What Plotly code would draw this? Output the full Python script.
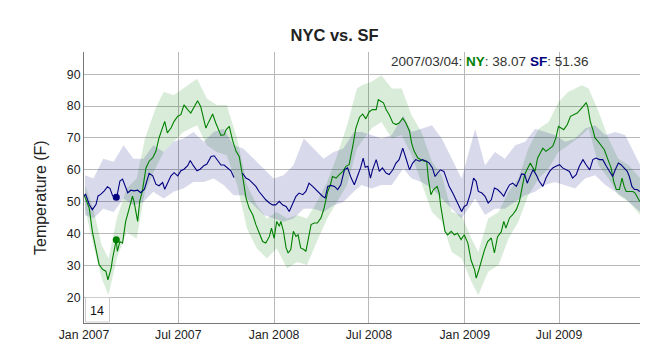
import pandas as pd
import plotly.graph_objects as go

# ---------------- data (days after 2007-01-01) ----------------
ny_day = [0,10,16,23,29,36,42,46,52,55,62,64,69,74,80,87,93,96,103,107,112,119,125,132,138,144,151,155,160,167,
          173,180,186,192,199,205,212,218,224,230,234,240,247,253,263,269,273,279,285,292,298,304,311,317,324,330,
          336,343,349,356,360,365,370,375,378,383,388,392,397,402,407,411,416,422,426,431,436,442,448,455,461,468,
          473,477,484,490,497,503,509,516,522,529,535,541,548,554,561,565,570,575,580,586,593,599,605,612,618,625,
          629,634,641,647,653,658,661,666,671,678,682,685,689,693,698,705,711,717,724,730,737,743,750,753,757,762,
          769,775,782,788,794,801,806,810,817,823,830,836,840,846,852,857,862,866,871,876,881,887,894,900,906,911,
          916,921,928,934,940,947,953,960,964,967,972,977,981,987,993,999,1006,1012,1017,1022,1028,1033,1037,1041,
          1047,1054,1058,1063,1067]
ny_val = [52.2,48.0,40.7,35.5,30.3,28.7,28.2,25.5,29.1,32.3,38.07,34.4,37.5,37.0,43.8,48.0,51.7,50.1,43.8,50.1,53.3,60.6,62.7,63.8,65.8,70.0,73.1,75.2,71.6,73.1,
          75.2,76.8,77.3,80.4,78.9,77.8,79.9,81.7,79.9,76.2,73.1,75.2,77.5,74.7,70.8,71.0,72.6,73.6,69.4,65.8,64.2,58.5,51.2,48.0,45.9,42.8,
          40.2,37.5,37.0,39.1,41.7,38.5,43.8,42.3,43.8,40.7,35.5,33.9,35.0,40.7,39.1,39.6,35.5,35.0,34.4,38.6,42.8,43.3,43.3,44.9,48.0,53.2,
          55.3,57.9,57.4,58.5,59.5,61.1,61.6,67.4,73.1,76.5,77.5,76.0,78.3,78.9,78.9,82.0,81.5,81.0,78.9,77.3,74.7,74.2,74.7,76.2,74.7,72.1,
          68.4,65.8,63.7,63.2,62.7,62.7,57.4,52.2,53.8,54.8,52.7,48.5,44.3,40.7,39.6,40.7,39.6,40.1,38.1,39.6,37.0,31.7,28.6,26.0,28.0,31.2,
          34.9,37.5,38.6,33.9,39.0,40.5,43.8,41.7,44.9,45.9,47.5,50.1,53.2,58.5,60.6,62.1,60.6,59.5,63.7,65.3,66.8,65.8,66.8,67.4,70.0,73.6,
          73.1,72.6,74.2,76.8,77.3,77.8,78.9,80.4,81.0,79.9,75.2,72.6,70.0,68.9,67.4,66.3,63.2,60.6,56.4,53.8,53.8,57.4,54.8,53.2,
          53.2,53.2,52.7,51.2,50.1]

sf_day = [0,3,10,16,23,27,32,39,45,50,55,62,64,69,74,78,84,90,96,103,109,116,121,125,132,138,144,151,155,160,167,173,180,
          186,192,199,204,210,217,223,230,236,244,250,256,263,269,276,282,288,292,304,311,317,324,330,336,343,349,356,362,
          368,375,381,388,394,400,407,413,420,426,432,439,445,452,458,463,468,474,481,487,493,500,506,513,519,525,531,536,
          540,545,550,554,561,567,573,580,586,593,599,605,612,618,625,631,637,644,650,657,663,669,674,679,684,691,695,701,
          708,714,721,725,730,735,742,748,753,757,764,770,776,782,788,794,801,806,810,817,823,830,836,840,846,851,855,862,
          868,874,881,887,894,900,906,913,919,926,932,938,945,951,958,964,971,977,983,990,996,1003,1009,1015,1020,1026,
          1031,1037,1043,1047,1052,1057,1062,1067]
sf_val = [51.7,52.4,49.1,47.5,49.1,51.8,52.3,53.4,54.7,54.1,51.8,51.36,52.3,56.5,57.1,55.5,52.8,53.6,53.4,53.6,52.8,53.9,56.5,58.9,58.1,55.5,55.0,56.0,53.9,55.5,58.1,59.1,58.1,
          59.7,60.2,61.3,62.9,61.3,59.7,60.2,61.3,61.8,64.2,64.4,62.9,61.5,61.5,60.5,59.7,57.6,None,59.0,57.4,56.9,55.8,54.8,53.2,51.7,50.6,49.6,49.0,
          49.0,50.1,49.0,48.5,46.9,49.0,51.7,52.7,52.2,53.2,55.8,54.8,53.8,52.7,51.7,51.2,54.8,55.1,54.8,53.8,55.3,60.0,60.6,57.4,55.3,58.0,60.6,63.7,
          60.8,61.1,57.4,60.0,63.2,59.5,60.6,59.0,58.5,60.0,62.1,63.2,66.8,63.7,60.0,62.1,63.2,62.7,63.2,62.7,62.1,60.6,57.9,59.0,60.0,59.5,57.4,54.8,
          52.7,50.6,48.0,46.9,48.5,49.0,52.7,57.4,56.4,53.2,52.7,51.7,49.6,50.6,54.3,53.8,52.7,51.7,53.2,55.3,55.8,54.8,56.9,58.7,58.5,55.8,57.4,60.0,
          58.5,56.4,54.8,57.4,59.5,60.6,61.1,61.6,60.6,60.0,59.5,57.4,58.5,61.1,63.2,61.6,60.0,63.2,63.7,63.2,63.2,61.1,59.5,57.9,60.0,62.1,
          61.6,60.6,59.5,57.9,54.8,53.8,53.8,53.2]

ny_band_day = [2,18,34,47,63,82,101,117,137,153,172,191,217,236,255,274,294,313,332,351,370,390,409,428,447,467,486,505,524,
               533,552,571,591,610,629,648,668,687,706,725,744,757,776,796,815,834,853,873,892,911,930,956,969,988,1007,1026,1046,1068]
ny_hi = [55.2,47.8,36.3,32.2,44.7,54.1,57.3,69.8,79.2,84.5,83.4,85.5,88.6,82.4,80.3,80.3,69.8,55.2,48.9,44.7,46.8,44.7,45.8,44.7,49.9,56.2,64.6,74.0,85.5,
         86.5,87.6,89.7,85.5,85.5,77.1,71.9,62.5,58.3,46.8,45.8,38.4,34.2,44.7,46.8,53.1,57.3,66.7,72.9,75.0,81.3,84.5,86.5,85.5,78.2,69.8,63.5,61.4,57.3]
ny_lo = [47.8,36.3,25.9,20.6,32.2,40.5,38.4,53.1,60.4,65.6,68.8,71.9,74.0,67.7,65.6,64.6,55.2,41.5,35.3,32.2,35.3,29.0,31.1,30.1,37.4,44.7,49.9,55.2,66.7,
         68.8,73.0,75.0,69.8,70.9,64.6,56.2,46.8,43.7,34.2,32.2,24.8,20.6,28.0,30.1,38.4,43.7,52.0,57.3,60.4,65.6,67.7,70.9,73.0,61.4,57.3,52.0,49.9,45.8]

sf_band_day = [2,18,37,57,76,95,114,133,153,172,191,210,230,249,268,287,306,326,345,364,383,402,422,441,460,479,498,518,
               533,552,571,591,613,629,648,668,687,706,725,751,770,789,808,828,847,866,885,904,924,943,962,981,1001,1020,1039,1068]
sf_hi = [58.3,57.3,63.5,62.5,67.7,63.5,63.5,67.7,65.6,68.8,69.8,71.9,68.8,71.9,72.9,67.7,66.7,63.5,60.4,57.3,58.3,61.4,69.8,66.7,63.5,65.6,66.7,71.9,
         71.9,70.9,69.8,70.9,77.1,71.9,73.0,74.0,69.8,63.5,57.3,72.9,61.4,65.6,63.5,67.7,68.8,72.9,71.9,70.9,68.8,69.8,73.0,74.0,70.9,71.9,70.9,61.4]
sf_lo = [45.8,44.7,47.8,46.8,51.0,48.9,49.9,53.1,51.0,53.1,54.1,56.2,56.2,57.3,55.2,52.0,52.0,48.9,45.8,44.7,43.7,44.7,47.8,47.8,46.8,48.9,49.9,53.1,
         55.2,54.1,55.2,55.2,60.4,57.3,56.2,54.1,51.0,47.8,44.7,51.0,45.8,47.8,47.8,49.9,52.0,53.1,55.2,56.2,55.2,54.1,57.3,58.3,55.2,53.1,51.0,46.8]

hl_day = 62
hl_label = "2007/03/04"
hl_ny = 38.07
hl_sf = 51.36

tick_dates = ["2007-01-01", "2007-07-01", "2008-01-01", "2008-07-01", "2009-01-01", "2009-07-01"]
tick_text = ["Jan 2007", "Jul 2007", "Jan 2008", "Jul 2008", "Jan 2009", "Jul 2009"]
roll_period = "14"

# ---------------- helpers ----------------
start = pd.Timestamp("2007-01-01")
def to_dates(days):
    return [start + pd.Timedelta(days=d) for d in days]

W, H = 667, 356
L, R, T, B = 76, 35, 44, 41
PW, PH = W - L - R, H - T - B
def px(x):
    return (x - L) / PW
def py(y):
    return (H - B - y) / PH

GREEN = "#008000"
NAVY = "#000080"
FONT = "Liberation Sans, Arial, Helvetica, sans-serif"

fig = go.Figure()

def band(days, hi, lo, color):
    d = to_dates(days)
    fig.add_trace(go.Scatter(x=d + d[::-1], y=hi + lo[::-1], fill="toself",
                             fillcolor=color, line=dict(width=0), mode="lines",
                             hoverinfo="skip", showlegend=False))

band(ny_band_day, ny_hi, ny_lo, "rgba(0,128,0,0.15)")
band(sf_band_day, sf_hi, sf_lo, "rgba(0,0,128,0.15)")

fig.add_trace(go.Scatter(x=to_dates(ny_day), y=ny_val, mode="lines",
                         line=dict(color=GREEN, width=1.1), showlegend=False, hoverinfo="skip"))
fig.add_trace(go.Scatter(x=to_dates(sf_day), y=sf_val, mode="lines",
                         line=dict(color=NAVY, width=1.1), showlegend=False, hoverinfo="skip"))

hd = to_dates([hl_day])
fig.add_trace(go.Scatter(x=hd, y=[hl_ny], mode="markers", marker=dict(color=GREEN, size=7),
                         showlegend=False, hoverinfo="skip"))
fig.add_trace(go.Scatter(x=hd, y=[hl_sf], mode="markers", marker=dict(color=NAVY, size=7),
                         showlegend=False, hoverinfo="skip"))

fig.update_layout(
    width=W, height=H,
    margin=dict(l=L, r=R, t=T, b=B),
    paper_bgcolor="white", plot_bgcolor="white",
    font=dict(family=FONT, size=12, color="#222"),
    title=dict(text="<b>NYC vs. SF</b>", x=326.5 / W, xref="container", xanchor="center",
               y=1 - 27.7 / H, yref="container", yanchor="middle",
               font=dict(family=FONT, size=16.5, color="#222")),
    xaxis=dict(type="date", range=[start, start + pd.Timedelta(days=1067.5)],
               tickvals=tick_dates, ticktext=tick_text, showgrid=True,
               gridcolor="#b8b8b8", gridwidth=1, showline=True, linecolor="#777",
               linewidth=1, ticks="", zeroline=False, tickfont=dict(size=12.3, color="#222")),
    yaxis=dict(range=[11.93, 96.97], tickvals=[20, 30, 40, 50, 60, 70, 80, 90],
               showgrid=True, gridcolor="#b8b8b8", gridwidth=1, showline=True,
               linecolor="#777", linewidth=1, ticks="", zeroline=False,
               tickfont=dict(size=12.3, color="#222")),
    hovermode=False,
)

fig.add_annotation(text="Temperature (F)", textangle=-90, xref="paper", yref="paper",
                   x=px(32), y=py(190), showarrow=False, xanchor="center", yanchor="middle",
                   font=dict(size=16, color="#222"))

legend_text = (f"{hl_label}: <span style='color:{GREEN}'><b>NY</b></span>: {hl_ny:.2f} "
               f"<span style='color:{NAVY}'><b>SF</b></span>: {hl_sf:.2f}")
fig.add_annotation(text=legend_text, xref="paper", yref="paper", x=px(380.5), y=py(53.3),
                   xanchor="left", yanchor="middle", showarrow=False,
                   font=dict(size=13.5, color="#333"))

# roll-period box
fig.add_shape(type="rect", xref="paper", yref="paper", x0=px(77.5), x1=px(101.5), y0=py(314), y1=py(289.5),
              line=dict(color="#cccccc", width=1), fillcolor="white", layer="above")
fig.add_annotation(text=roll_period, xref="paper", yref="paper", x=px(89), y=py(303),
                   xanchor="center", yanchor="middle", showarrow=False,
                   font=dict(size=12.5, color="#111"))

fig.write_html("out.html")
